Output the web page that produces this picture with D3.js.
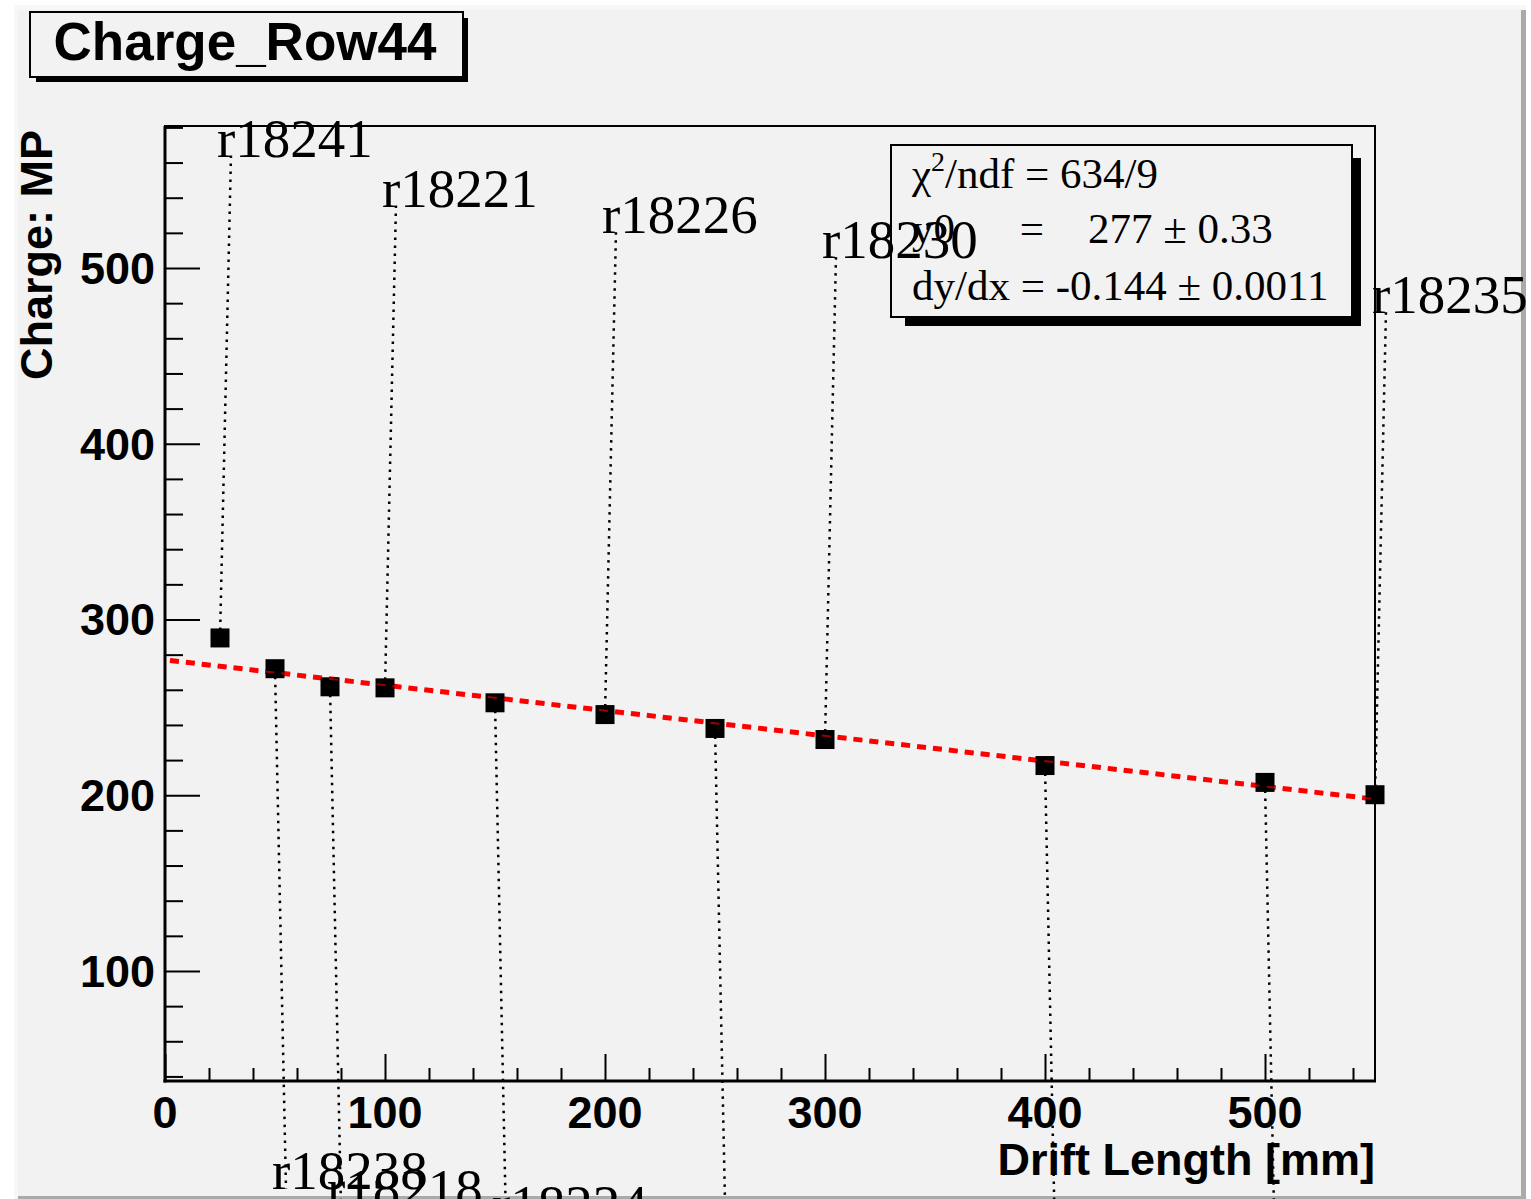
<!DOCTYPE html>
<html>
<head>
<meta charset="utf-8">
<script src="https://cdn.jsdelivr.net/npm/d3@7"></script>
<style>
  html, body { margin: 0; padding: 0; background: #ffffff; }
  svg { display: block; }
</style>
</head>
<body>
<svg id="chart" width="1531" height="1199"></svg>
<script>
// ---- data ----
const driftLength = [25, 50, 75, 100, 150, 200, 250, 300, 400, 500, 550];
const chargeMP    = [289.5, 272.0, 261.7, 261.1, 252.6, 245.9, 238.0, 231.7, 216.9, 207.3, 200.3];
const runLabels   = ["r18241", "r18238", "r18218", "r18221", "r18224", "r18226", "", "r18230", "", "", "r18235"];
const labelSide   = ["up", "down", "down", "up", "down", "up", "down", "up", "down", "down", "up"];
const xTickValues = [0, 100, 200, 300, 400, 500];
const yTickValues = [100, 200, 300, 400, 500];
const xDomain = [0, 550];
const yDomain = [37.4, 580.8];
const fitY0 = 277;
const fitSlope = -0.144;
const titleText = "Charge_Row44";
const xTitle = "Drift Length [mm]";
const yTitle = "Charge: MP";
const statsChi2 = "634/9";
const statsY0 = "277 ± 0.33";
const statsSlope = "-0.144 ± 0.0011";
const labelOffset = 275;

// ---- layout ----
const svg = d3.select("#chart");
const L = 165, R = 1375, T = 126, B = 1081;
const x = d3.scaleLinear().domain(xDomain).range([L, R]);
const y = d3.scaleLinear().domain(yDomain).range([B, T]);
const sans = "'Liberation Sans', Arial, Helvetica, sans-serif";
const serif = "'Liberation Serif', 'Times New Roman', Times, serif";

// canvas panel with bevel
svg.append("rect").attr("x", 0).attr("y", 0).attr("width", 1531).attr("height", 1199).attr("fill", "#ffffff");
svg.append("rect").attr("x", 14).attr("y", 5).attr("width", 1512).attr("height", 1194).attr("fill", "#f7f7f7");
svg.append("rect").attr("x", 18).attr("y", 10).attr("width", 1508).attr("height", 1189).attr("fill", "#aaaaaa");
svg.append("rect").attr("x", 18).attr("y", 10).attr("width", 1503).attr("height", 1186).attr("fill", "#f2f2f2");

// ---- axes ----
const yMinor = d3.range(40, 581, 20).filter(v => v % 100 !== 0);
const xMinor = d3.range(0, 551, 20).filter(v => v % 100 !== 0);

const yAxisMajor = d3.axisRight(y).tickValues(yTickValues).tickSize(35).tickFormat("");
const yAxisMinor = d3.axisRight(y).tickValues(yMinor).tickSize(18).tickFormat("");
const xAxisMajor = d3.axisTop(x).tickValues(xTickValues).tickSize(27).tickFormat("");
const xAxisMinor = d3.axisTop(x).tickValues(xMinor).tickSize(13).tickFormat("");

function styleAxis(g) {
  g.select(".domain").remove();
  g.selectAll(".tick line").attr("stroke", "#000").attr("stroke-width", 2);
}
svg.append("g").attr("transform", `translate(${L},0)`).call(yAxisMajor).call(styleAxis);
svg.append("g").attr("transform", `translate(${L},0)`).call(yAxisMinor).call(styleAxis);
svg.append("g").attr("transform", `translate(0,${B})`).call(xAxisMajor).call(styleAxis);
svg.append("g").attr("transform", `translate(0,${B})`).call(xAxisMinor).call(styleAxis);

// frame
svg.append("rect").attr("x", L).attr("y", T).attr("width", R - L).attr("height", B - T)
  .attr("fill", "none").attr("stroke", "#000").attr("stroke-width", 2);
svg.append("line").attr("x1", L).attr("x2", L).attr("y1", T).attr("y2", B + 1.5)
  .attr("stroke", "#000").attr("stroke-width", 3);
svg.append("line").attr("x1", L - 1.5).attr("x2", R + 1).attr("y1", B).attr("y2", B)
  .attr("stroke", "#000").attr("stroke-width", 3);

// tick labels
svg.append("g").selectAll("text").data(yTickValues).join("text")
  .attr("x", 155).attr("y", d => y(d) + 16)
  .attr("text-anchor", "end")
  .attr("font-family", sans).attr("font-weight", "bold").attr("font-size", 45)
  .text(d => d);
svg.append("g").selectAll("text").data(xTickValues).join("text")
  .attr("x", d => x(d)).attr("y", 1128)
  .attr("text-anchor", "middle")
  .attr("font-family", sans).attr("font-weight", "bold").attr("font-size", 45)
  .text(d => d);

// axis titles
svg.append("text").attr("x", R).attr("y", 1175).attr("text-anchor", "end")
  .attr("font-family", sans).attr("font-weight", "bold").attr("font-size", 45)
  .text(xTitle);
svg.append("text").attr("transform", `translate(52,${T + 4}) rotate(-90)`).attr("text-anchor", "end")
  .attr("font-family", sans).attr("font-weight", "bold").attr("font-size", 45)
  .text(yTitle);

// title box
svg.append("rect").attr("x", 36).attr("y", 18).attr("width", 432).attr("height", 64).attr("fill", "#000");
svg.append("rect").attr("x", 30).attr("y", 12).attr("width", 433).attr("height", 65)
  .attr("fill", "#f2f2f2").attr("stroke", "#000").attr("stroke-width", 2);
svg.append("text").attr("x", 245).attr("y", 60).attr("text-anchor", "middle")
  .attr("font-family", sans).attr("font-weight", "bold").attr("font-size", 53)
  .text(titleText);

// stats box
svg.append("rect").attr("x", 905).attr("y", 158).attr("width", 456).attr("height", 168).attr("fill", "#000");
svg.append("rect").attr("x", 891).attr("y", 145).attr("width", 461).attr("height", 172)
  .attr("fill", "#f2f2f2").attr("stroke", "#000").attr("stroke-width", 2);
const st1 = svg.append("text").attr("x", 912).attr("y", 188)
  .attr("font-family", serif).attr("font-size", 43);
st1.append("tspan").text("χ");
st1.append("tspan").attr("font-size", 28).attr("dy", -17).text("2");
st1.append("tspan").attr("dy", 17).text("/ndf = " + statsChi2);
svg.append("text").attr("x", 912).attr("y", 243).attr("font-family", serif).attr("font-size", 43).text("y0");
svg.append("text").attr("x", 1032).attr("y", 243).attr("text-anchor", "middle").attr("font-family", serif).attr("font-size", 43).text("=");
svg.append("text").attr("x", 1088).attr("y", 243).attr("font-family", serif).attr("font-size", 43).text(statsY0);
svg.append("text").attr("x", 912).attr("y", 300).attr("font-family", serif).attr("font-size", 43).text("dy/dx = " + statsSlope);

// ---- run labels with dotted leader lines ----
const pts = driftLength.map((d, i) => ({
  x: d, y: chargeMP[i], label: runLabels[i], side: labelSide[i]
}));
pts.forEach(p => {
  const px = x(p.x), py = y(p.y);
  const endX = x(p.x + 5);
  let endY, baseY;
  if (p.side === "up") {
    endY = y(p.y + labelOffset);
    baseY = endY + 2;
  } else {
    baseY = y(p.y - labelOffset) + 37;
    endY = baseY;
  }
  svg.append("line").attr("x1", px).attr("y1", py).attr("x2", endX).attr("y2", endY)
    .attr("stroke", "#000").attr("stroke-width", 2.5).attr("stroke-dasharray", "2.5,5.5");
  p.tx = px - 3; p.ty = baseY;
});

// fit line
const fitLine = d3.line().x(d => x(d)).y(d => y(fitY0 + fitSlope * d));
svg.append("path").datum(xDomain).attr("d", fitLine)
  .attr("fill", "none").attr("stroke", "#ff0000").attr("stroke-width", 5)
  .attr("stroke-dasharray", "9,7").attr("stroke-dashoffset", -5);

// markers
svg.append("g").selectAll("rect").data(pts).join("rect")
  .attr("x", d => x(d.x) - 9.5).attr("y", d => y(d.y) - 9.5)
  .attr("width", 19).attr("height", 19).attr("fill", "#000");

// red fit drawn again lightly over markers (as in reference)
svg.append("path").datum(xDomain).attr("d", fitLine)
  .attr("fill", "none").attr("stroke", "#ff0000").attr("stroke-width", 2)
  .attr("stroke-dasharray", "9,7").attr("stroke-dashoffset", -5).attr("opacity", 0.6);

// label texts
svg.append("g").selectAll("text").data(pts.filter(p => p.label)).join("text")
  .attr("x", d => d.tx).attr("y", d => d.ty)
  .attr("font-family", serif).attr("font-size", 55)
  .text(d => d.label);
</script>
</body>
</html>
